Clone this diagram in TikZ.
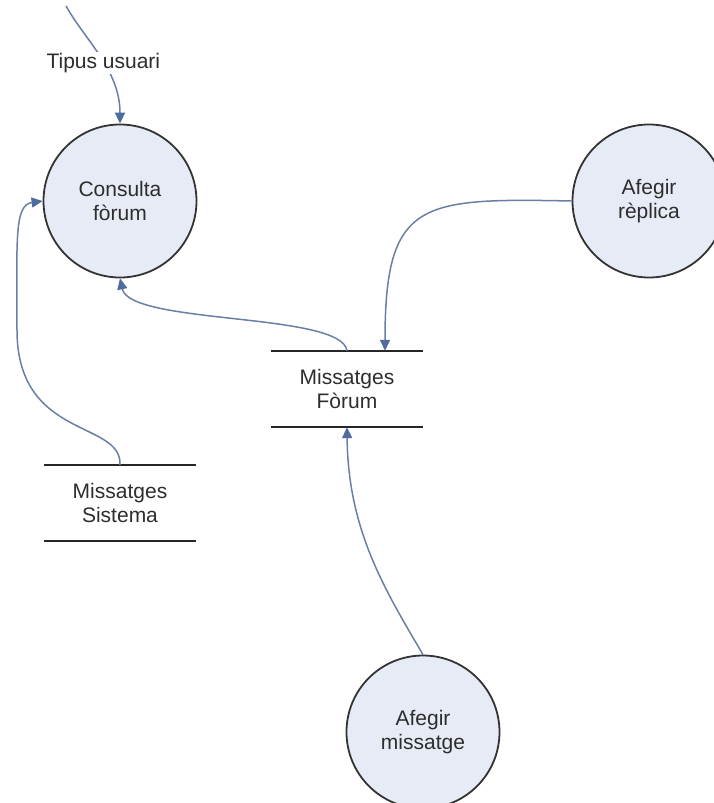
\documentclass[tikz,border=0pt]{standalone}
\usepackage{fontspec}
\setmainfont{Liberation Sans}
\usetikzlibrary{arrows.meta}
\definecolor{procfill}{RGB}{230,235,245}
\definecolor{flowline}{RGB}{105,128,165}
\definecolor{flowhead}{RGB}{78,108,160}
\definecolor{labeltext}{RGB}{45,45,45}
\begin{document}
\begin{tikzpicture}[x=1pt,y=-1pt,
  every node/.style={font=\fontsize{21}{24}\selectfont, text=labeltext},
  process/.style={circle, draw=black!80, line width=1.8pt, fill=procfill,
    minimum size=153pt, inner sep=0pt, align=center},
  store/.style={minimum width=151pt, minimum height=76pt, inner sep=0pt, align=center},
  storeline/.style={draw=black!85, line width=1.8pt},
  flow/.style={draw=flowline, line width=1.5pt,
    -{Triangle[length=11pt,width=10pt,color=flowhead,fill=flowhead]}},
  flowlabel/.style={fill=white, inner sep=1pt}]
\useasboundingbox (0,0) rectangle (714,803);

% processes
\node[process] (consulta) at (120,201) {Consulta\\fòrum};
\node[process] (replica) at (649,201) {Afegir\\rèplica};
\node[process] (missatge) at (423,732) {Afegir\\missatge};

% data stores
\node[store] (forum) at (347,389) {Missatges\\Fòrum};
\node[store] (sistema) at (120,503) {Missatges\\Sistema};
\foreach \s in {forum,sistema}{
  \draw[storeline] (\s.north west) -- (\s.north east);
  \draw[storeline] (\s.south west) -- (\s.south east);
}

% data flows
\coordinate (tipusin) at (66,6);
\draw[flow] (tipusin) .. controls (85,40) and (120,70) .. (consulta.north)
  node[flowlabel, pos=0.55] {Tipus usuari};

\draw[flow] (sistema.north) .. controls (122,420) and (17,440) .. (17,330)
  .. controls (17,240) and (14,205) .. (consulta.west);

\draw[flow] (forum.north) .. controls (342,312) and (130,325) .. (consulta.south);

\draw[flow] (replica.west) .. controls (420,198) and (385,200) .. ([xshift=38pt]forum.north);

\draw[flow] (missatge.north) .. controls (385,590) and (348,530) .. (forum.south);
\end{tikzpicture}
\end{document}
